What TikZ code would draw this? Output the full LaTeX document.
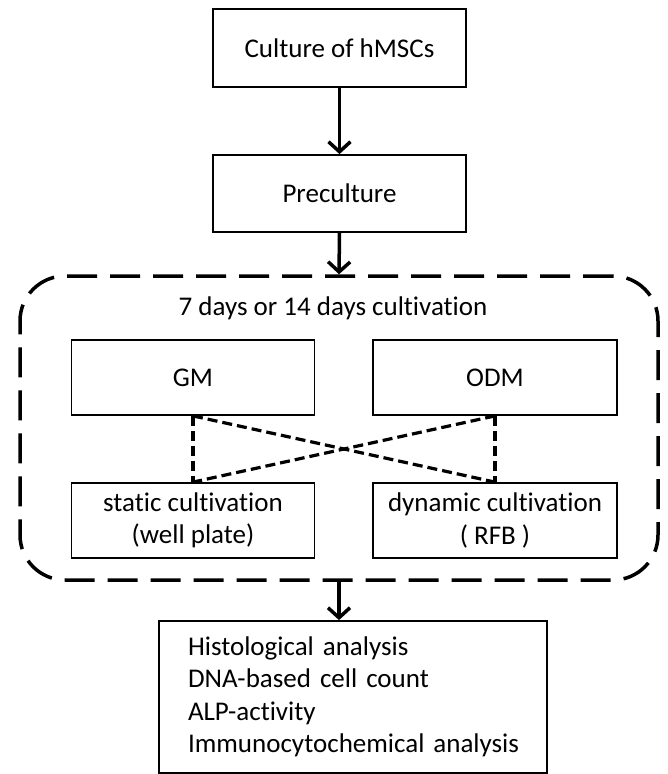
\documentclass[tikz,border=0pt]{standalone}
\usepackage{fontspec}
\setmainfont[Ligatures={NoCommon}]{Carlito}
\usetikzlibrary{arrows.meta}
\begin{document}
\begin{tikzpicture}[x=1pt,y=-1pt,
  font=\fontsize{27}{32.5}\selectfont,
  box/.style={draw, line width=1.8pt, inner sep=0pt, align=center},
  flow/.style={line width=3.5pt, -{Straight Barb[length=10pt,width=22pt,line width=3.5pt]}},
  cross/.style={line width=3.2pt, dash pattern=on 10pt off 5pt},
  frame/.style={draw, line width=3.5pt, rounded corners=45pt, dash pattern=on 30pt off 13pt, inner sep=0pt}]
\useasboundingbox (0,0) rectangle (668,774);
\node[box, minimum width=253pt, minimum height=78pt] (c1) at (339.5,48) {Culture of hMSCs};
\node[box, minimum width=253pt, minimum height=77pt] (c2) at (339.5,193.5) {Preculture};
\node[frame, minimum width=638pt, minimum height=304pt] (fr) at (339,428) {};
\node (title) at (333,308) {7 days or 14 days cultivation};
\node[box, minimum width=243pt, minimum height=75pt] (gm) at (193,377.5) {GM};
\node[box, minimum width=244pt, minimum height=75pt] (odm) at (495,377.5) {ODM};
\node[box, minimum width=243pt, minimum height=75pt] (st) at (193,520.5) {static cultivation\\(well plate)};
\node[box, minimum width=244pt, minimum height=75pt] (dy) at (495,520.5) {dynamic cultivation\\( RFB )};
\node[box, minimum width=388pt, minimum height=152pt, align=left, text width=360pt, inner xsep=0pt] (res) at (353,697)
  {\hspace*{15pt}Histological analysis\\\hspace*{15pt}DNA-based cell count\\\hspace*{15pt}ALP-activity\\\hspace*{15pt}Immunocytochemical analysis};
\draw[flow] (c1.south) -- (c2.north);
\draw[flow] (c2.south) -- (fr.north);
\draw[flow] (fr.south) -- (fr.south |- res.north);
\draw[cross] (gm.south) -- (st.north);
\draw[cross] (odm.south) -- (dy.north);
\draw[cross] (gm.south) -- (dy.north);
\draw[cross] (odm.south) -- (st.north);
\end{tikzpicture}
\end{document}
